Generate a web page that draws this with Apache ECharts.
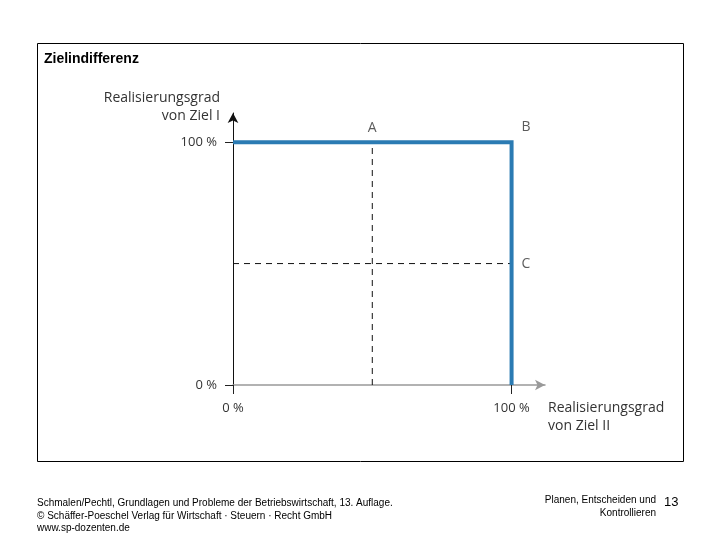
<!DOCTYPE html>
<html><head><meta charset="utf-8">
<script src="https://cdn.jsdelivr.net/npm/echarts@6/dist/echarts.min.js"></script>
<style>html,body{margin:0;padding:0;background:#fff}#c{width:720px;height:540px}</style>
</head><body><div id="c"></div>
<script>
const xTicks = [0, 100];
const yTicks = [0, 100];
const tickLabels = {0: '0 %', 100: '100 %'};
const pathPoints = [[0, 100], [100, 100], [100, 0]];
const dashV = [[50, 0], [50, 100]];
const dashH = [[0, 50], [100, 50]];
const markers = [
  {name: 'A', value: [50, 100], pos: 'top'},
  {name: 'B', value: [100, 100], pos: 'topRight'},
  {name: 'C', value: [100, 50], pos: 'right'}
];
const axisMax = 112;

const chart = echarts.init(document.getElementById('c'));
const lblFont = {fontFamily: 'Open Sans', fontSize: 13, color: '#333'};
chart.setOption({
  animation: false,
  grid: {left: 233, right: 175, top: 113, bottom: 155},
  xAxis: {
    type: 'value', min: 0, max: axisMax,
    splitLine: {show: false},
    axisLine: {show: true, onZero: false, symbol: ['none', 'arrow'], symbolSize: [8, 10], lineStyle: {color: '#999', width: 1.5}},
    axisTick: {show: true, customValues: xTicks, length: 9, lineStyle: {color: '#222'}},
    axisLabel: Object.assign({customValues: xTicks, margin: 17, formatter: v => tickLabels[v]}, lblFont)
  },
  yAxis: {
    type: 'value', min: 0, max: axisMax,
    splitLine: {show: false},
    axisLine: {show: true, onZero: false, symbol: ['none', 'arrow'], symbolSize: [8, 10], lineStyle: {color: '#111', width: 1}},
    axisTick: {show: true, customValues: yTicks, length: 8, inside: false, lineStyle: {color: '#222'}},
    axisLabel: Object.assign({customValues: yTicks, margin: 16, formatter: v => tickLabels[v]}, lblFont)
  },
  series: [
    {type: 'line', data: dashV, symbol: 'none', lineStyle: {color: '#111', width: 1, type: [6, 5]}, z: 2},
    {type: 'line', data: dashH, symbol: 'none', lineStyle: {color: '#111', width: 1, type: [6, 5]}, z: 2},
    {type: 'line', data: pathPoints, symbol: 'none', lineStyle: {color: '#2b7bb3', width: 4, join: 'miter', cap: 'butt'}, z: 5},
    {type: 'scatter', symbolSize: 0, z: 6,
      data: markers.map(m => ({name: m.name, value: m.value,
        label: {show: true, formatter: m.name, position: m.pos === 'topRight' ? [10, -22] : (m.pos === 'top' ? 'top' : 'right'),
          distance: m.pos === 'top' ? 7 : 10, fontFamily: 'Open Sans', fontSize: 14, color: '#333'}}))}
  ],
  graphic: [
    {type: 'rect', shape: {x: 37.5, y: 43.5, width: 646, height: 418}, style: {fill: 'none', stroke: '#000', lineWidth: 1}, z: -1},
    {type: 'text', left: 44, top: 52, style: {text: 'Zielindifferenz', font: 'bold 14px Arial', fill: '#000'}},
    {type: 'text', x: 220, y: 89, style: {text: 'Realisierungsgrad\nvon Ziel I', font: '14px "Open Sans"', fill: '#333', align: 'right', lineHeight: 18}},
    {type: 'text', x: 548, y: 399, style: {text: 'Realisierungsgrad\nvon Ziel II', font: '14px "Open Sans"', fill: '#333', align: 'left', lineHeight: 18}},
    {type: 'text', x: 37, y: 497, style: {text: 'Schmalen/Pechtl, Grundlagen und Probleme der Betriebswirtschaft, 13. Auflage.\n© Schäffer-Poeschel Verlag für Wirtschaft · Steuern · Recht GmbH\nwww.sp-dozenten.de', font: '10px Arial', fill: '#000', lineHeight: 12.5}},
    {type: 'text', x: 656, y: 494, style: {text: 'Planen, Entscheiden und\nKontrollieren', font: '10px Arial', fill: '#000', align: 'right', lineHeight: 13}},
    {type: 'text', x: 664, y: 496, style: {text: '13', font: '13px Arial', fill: '#000'}}
  ]
});
</script></body></html>
